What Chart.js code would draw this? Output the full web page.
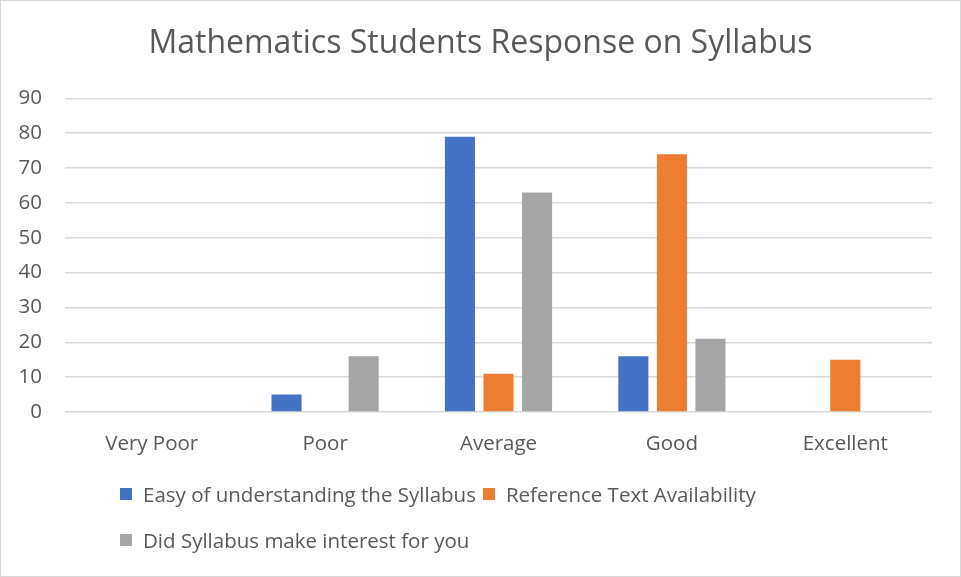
<!DOCTYPE html>
<html>
<head>
<meta charset="utf-8">
<script src="https://cdn.jsdelivr.net/npm/chart.js@4"></script>
<style>
  html, body { margin: 0; padding: 0; background: #fff; }
  #wrap { position: relative; width: 961px; height: 577px; }
  #frame { position: absolute; left: 0; top: 0; width: 961px; height: 577px; box-sizing: border-box; border: 1px solid #d9d9d9; }
  #chart { position: absolute; left: 0; top: 0; }
  .legend-row { position: absolute; left: 120px; height: 28px; display: flex; align-items: center;
    font-family: "Open Sans", sans-serif; font-size: 20.5px; color: #595959; white-space: nowrap; }
  .legend-item { display: flex; align-items: center; margin-right: 7px; }
  .swatch { width: 12px; height: 12px; margin-right: 11px; }
</style>
</head>
<body>
<div id="wrap">
  <div id="frame"></div>
  <canvas id="chart" width="961" height="577"></canvas>
  <div class="legend-row" id="legendRow1" style="top:480px"></div>
  <div class="legend-row" id="legendRow2" style="top:526px"></div>
</div>
<script>
// categories and values
const categories = ['Very Poor', 'Poor', 'Average', 'Good', 'Excellent'];
const seriesNames = ['Easy of understanding the Syllabus', 'Reference Text Availability', 'Did Syllabus make interest for you'];
const easyOfUnderstanding = [0, 5, 79, 16, 0];
const referenceText = [0, 0, 11, 74, 15];
const madeInterest = [0, 16, 63, 21, 0];
const seriesColors = ['#4472C4', '#ED7D31', '#A5A5A5'];
const yTicks = [0, 10, 20, 30, 40, 50, 60, 70, 80, 90];

const textColor = '#595959';
const fontFamily = '"Open Sans", sans-serif';

const seriesValues = [easyOfUnderstanding, referenceText, madeInterest];
const datasets = seriesNames.map((name, i) => ({
    label: name,
    data: seriesValues[i],
    backgroundColor: seriesColors[i],
    borderWidth: 0,
    categoryPercentage: 0.667,
    barPercentage: 0.78
}));

new Chart(document.getElementById('chart'), {
    type: 'bar',
    data: { labels: categories, datasets: datasets },
    options: {
        responsive: false,
        animation: false,
        layout: { padding: { left: 0, right: 0, top: 0, bottom: 115 } },
        plugins: {
            legend: { display: false },
            tooltip: { enabled: false },
            title: {
                display: true,
                text: 'Mathematics Students Response on Syllabus',
                color: textColor,
                font: { family: fontFamily, size: 32, weight: 'normal' },
                padding: { top: 25, bottom: 35 }
            }
        },
        scales: {
            x: {
                grid: { display: false },
                border: { display: false },
                ticks: { color: textColor, font: { family: fontFamily, size: 20.5 }, padding: 12 },
                afterFit: (scale) => { scale.height = 50; }
            },
            y: {
                min: yTicks[0],
                max: yTicks[yTicks.length - 1],
                afterBuildTicks: (scale) => { scale.ticks = yTicks.map(v => ({ value: v })); },
                grid: { color: '#d9d9d9', lineWidth: 1.5, drawTicks: false },
                border: { display: false },
                ticks: { color: textColor, font: { family: fontFamily, size: 20.5 }, padding: 23 },
                afterFit: (scale) => { scale.width = 65; }
            },
            // empty right-hand axis: only leaves the margin on the right, so the title stays centred on the picture
            spacer: {
                position: 'right',
                grid: { display: false },
                border: { display: false },
                ticks: { display: false },
                afterFit: (scale) => { scale.width = 29; }
            }
        }
    }
});

// legend built from the same series, laid out in two rows like the original
function addLegendItem(row, i) {
    const item = document.createElement('div');
    item.className = 'legend-item';
    const sw = document.createElement('div');
    sw.className = 'swatch';
    sw.style.background = seriesColors[i];
    const label = document.createElement('span');
    label.textContent = seriesNames[i];
    item.appendChild(sw);
    item.appendChild(label);
    row.appendChild(item);
}
addLegendItem(document.getElementById('legendRow1'), 0);
addLegendItem(document.getElementById('legendRow1'), 1);
addLegendItem(document.getElementById('legendRow2'), 2);
</script>
</body>
</html>
